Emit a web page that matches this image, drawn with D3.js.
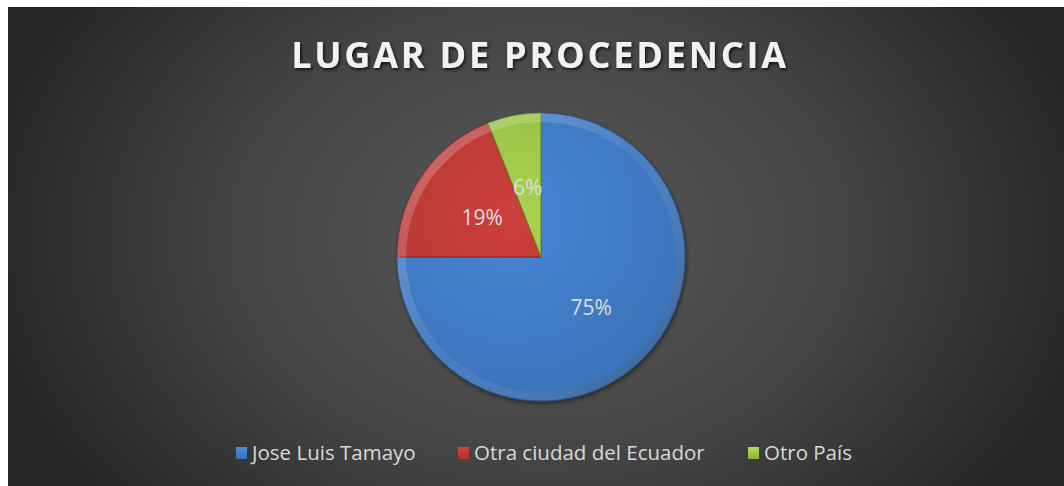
<!DOCTYPE html>
<html><head><meta charset="utf-8">
<script src="https://cdn.jsdelivr.net/npm/d3@7"></script>
<style>html,body{margin:0;padding:0;background:#fff;}svg{display:block;}</style>
</head><body>
<script>
const categories = ["Jose Luis Tamayo", "Otra ciudad del Ecuador", "Otro País"];
const values = [75, 19, 6];
const labels = ["75%", "19%", "6%"];
const colors = ["#437fcc", "#c23c38", "#a0c84a"];
const title = "LUGAR DE PROCEDENCIA";

const W = 1064, H = 486;
const svg = d3.select("body").append("svg").attr("width", W).attr("height", H);
const defs = svg.append("defs");

const bg = defs.append("radialGradient").attr("id","bg")
  .attr("gradientUnits","userSpaceOnUse").attr("cx",540).attr("cy",235).attr("r",560)
  .attr("gradientTransform","translate(540,235) scale(1,0.75) translate(-540,-235)");
bg.append("stop").attr("offset","0%").attr("stop-color","#595959");
bg.append("stop").attr("offset","55%").attr("stop-color","#444444");
bg.append("stop").attr("offset","100%").attr("stop-color","#262626");

svg.append("rect").attr("x",8).attr("y",7).attr("width",W-8).attr("height",H-7).attr("fill","url(#bg)");

const sh = defs.append("filter").attr("id","tsh").attr("x","-10%").attr("y","-30%").attr("width","120%").attr("height","160%");
sh.append("feDropShadow").attr("dx",1.5).attr("dy",2).attr("stdDeviation",1.5).attr("flood-color","#000").attr("flood-opacity",0.7);

svg.append("text").attr("x",540).attr("y",68).attr("text-anchor","middle")
  .attr("font-family","'Open Sans', sans-serif").attr("font-weight",700)
  .attr("font-size",36).attr("letter-spacing",2.8).attr("fill","#f2f2f2")
  .attr("filter","url(#tsh)").text(title);

const cx = 541, cy = 257, R = 144;
const g = svg.append("g").attr("transform",`translate(${cx},${cy})`);
const pie = d3.pie().sort(null).value(d=>d);
const arcs = pie(values);
const arc = d3.arc().innerRadius(0).outerRadius(R);
const bevel = d3.arc().innerRadius(R-9).outerRadius(R);
const labelArc = d3.arc().innerRadius(71).outerRadius(71);

const pshadow = defs.append("filter").attr("id","psh").attr("x","-20%").attr("y","-20%").attr("width","140%").attr("height","140%");
pshadow.append("feDropShadow").attr("dx",1).attr("dy",2).attr("stdDeviation",2).attr("flood-color","#000").attr("flood-opacity",0.5);

arcs.forEach((a,i)=>{
  const c = d3.color(colors[i]);
  const lg = defs.append("radialGradient").attr("id","sg"+i)
    .attr("gradientUnits","userSpaceOnUse").attr("cx",-30).attr("cy",-40).attr("r",R*1.4);
  lg.append("stop").attr("offset","0%").attr("stop-color",c.brighter(0.15));
  lg.append("stop").attr("offset","100%").attr("stop-color",c.darker(0.3));
});
const bv = defs.append("linearGradient").attr("id","bv").attr("gradientUnits","userSpaceOnUse")
  .attr("x1",-R).attr("y1",-R).attr("x2",R).attr("y2",R);
bv.append("stop").attr("offset","0%").attr("stop-color","#fff").attr("stop-opacity",0.28);
bv.append("stop").attr("offset","50%").attr("stop-color","#fff").attr("stop-opacity",0.05);
bv.append("stop").attr("offset","100%").attr("stop-color","#000").attr("stop-opacity",0.25);

const sl = g.append("g").attr("filter","url(#psh)");
sl.selectAll("path.s").data(arcs).join("path").attr("class","s")
  .attr("d",arc).attr("fill",(d,i)=>`url(#sg${i})`)
  .attr("stroke",(d,i)=>d3.color(colors[i]).darker(1.2)).attr("stroke-width",1);
sl.selectAll("path.b").data(arcs).join("path").attr("class","b")
  .attr("d",bevel).attr("fill","url(#bv)");

g.selectAll("text.l").data(arcs).join("text").attr("class","l")
  .attr("transform",d=>`translate(${labelArc.centroid(d)})`)
  .attr("text-anchor","middle").attr("dy","0.36em")
  .attr("font-family","'Open Sans', sans-serif").attr("font-size",21)
  .attr("fill","#dedede").text((d,i)=>labels[i]);

const legX = [236, 458, 748];
const lg = svg.append("g");
categories.forEach((c,i)=>{
  const mg = defs.append("linearGradient").attr("id","mk"+i).attr("x1",0).attr("y1",0).attr("x2",0).attr("y2",1);
  mg.append("stop").attr("offset","0%").attr("stop-color",d3.color(colors[i]).brighter(0.3));
  mg.append("stop").attr("offset","100%").attr("stop-color",d3.color(colors[i]).darker(0.4));
  lg.append("rect").attr("x",legX[i]).attr("y",447).attr("width",11).attr("height",12).attr("fill",`url(#mk${i})`);
  lg.append("text").attr("x",legX[i]+16).attr("y",453).attr("dy","0.36em")
    .attr("font-family","'Open Sans', sans-serif").attr("font-size",20.5)
    .attr("fill","#d9d9d9").text(c);
});
</script>
</body></html>
